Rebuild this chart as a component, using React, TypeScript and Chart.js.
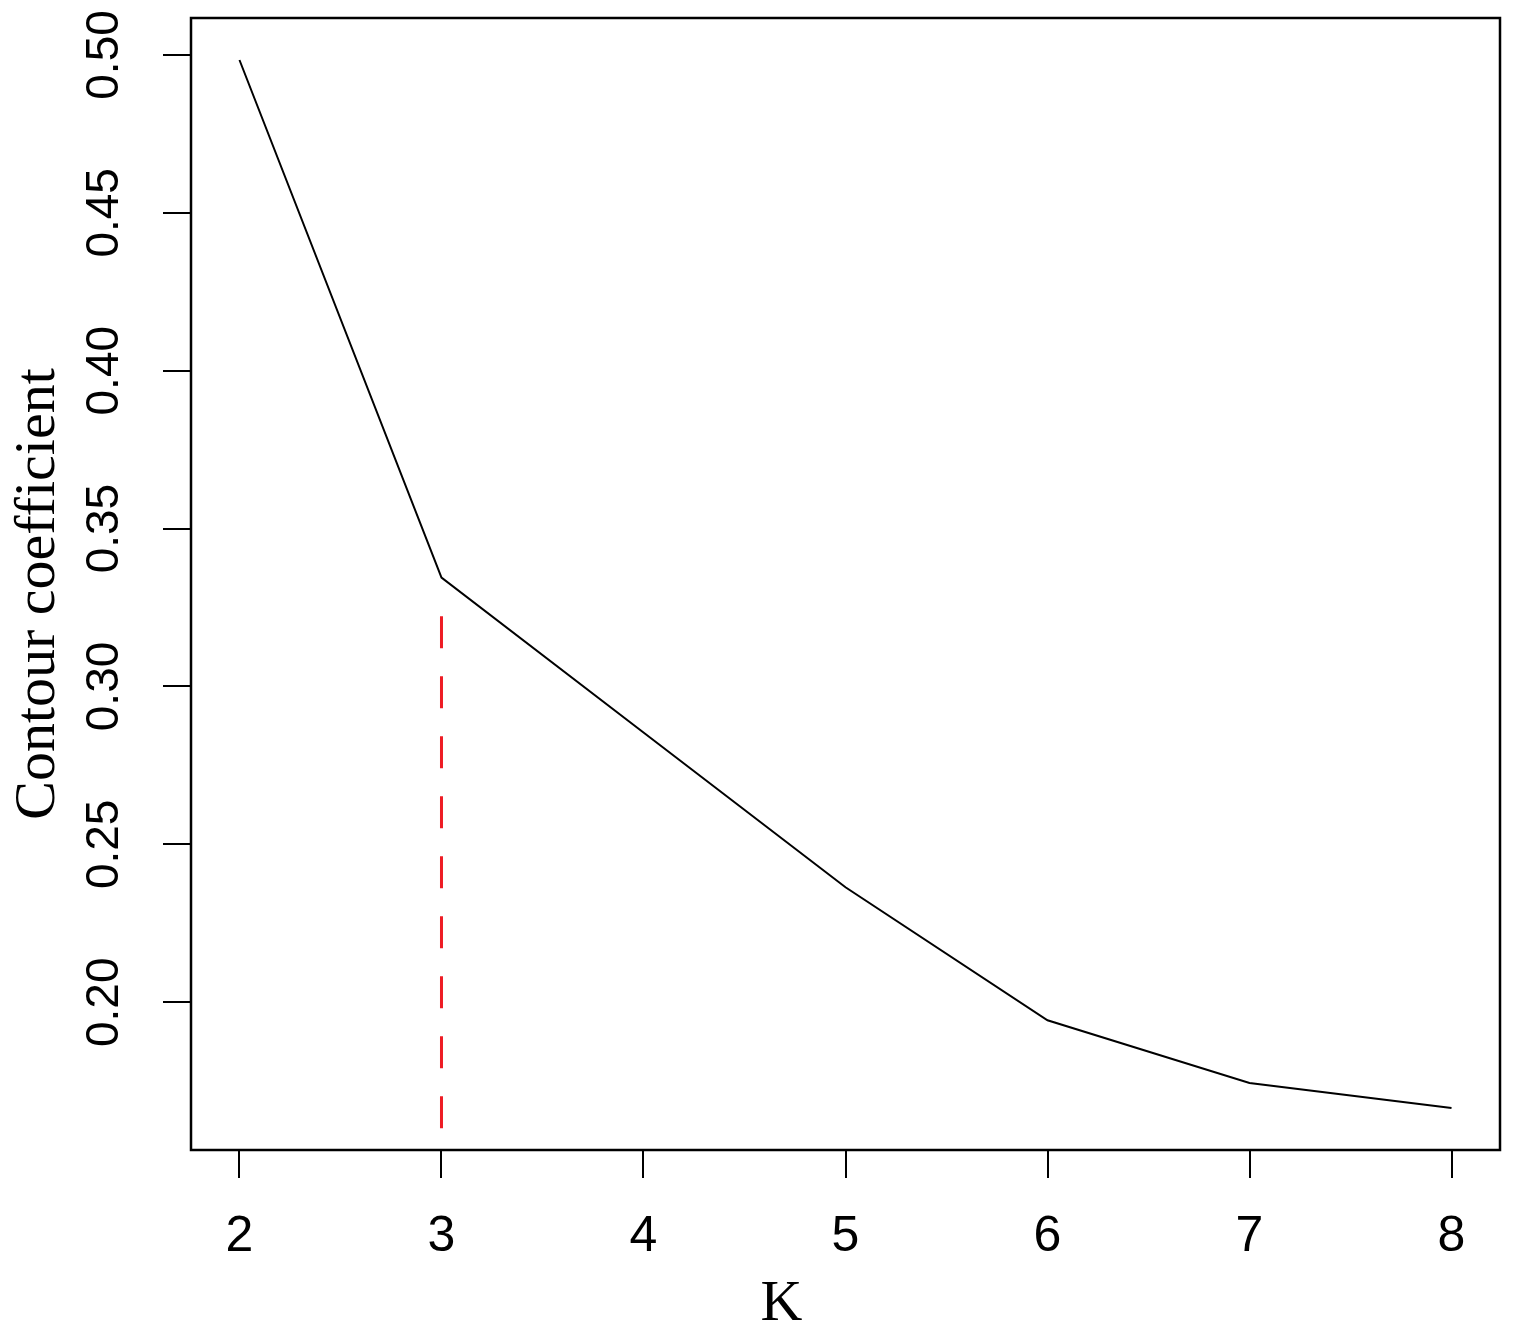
import React, { useEffect, useRef } from "react";
import { Chart, registerables } from "chart.js";

Chart.register(...registerables);

// ---- data ----
const kValues: number[] = [2, 3, 4, 5, 6, 7, 8];
const contourCoef: number[] = [0.4984, 0.3345, 0.2854, 0.2364, 0.1943, 0.1744, 0.1665];

const markerK: number[] = [3, 3];
const markerY: number[] = [0.3222, 0.1592];

const xTickValues: number[] = [2, 3, 4, 5, 6, 7, 8];
const xTickLabels: string[] = ["2", "3", "4", "5", "6", "7", "8"];
const yTickValues: number[] = [0.2, 0.25, 0.3, 0.35, 0.4, 0.45, 0.5];
const yTickLabels: string[] = ["0.20", "0.25", "0.30", "0.35", "0.40", "0.45", "0.50"];

const xLimits: number[] = [1.76, 8.24];
const yLimits: number[] = [0.1532, 0.5117];

const xTitle = "K";
const yTitle = "Contour coefficient";

const W = 1525;
const H = 1343;

const SANS = "'Liberation Sans', Arial, sans-serif";
const SERIF = "'Liberation Serif', 'Times New Roman', serif";

const boxPlugin = {
  id: "boxPlugin",
  afterDraw(chart: any) {
    const { ctx, chartArea } = chart;
    ctx.save();
    ctx.strokeStyle = "#000";
    ctx.lineWidth = 2.5;
    ctx.strokeRect(chartArea.left, chartArea.top, chartArea.right - chartArea.left, chartArea.bottom - chartArea.top);

    // axis titles (R-style placement)
    ctx.fillStyle = "#000";
    ctx.font = "58px " + SERIF;
    ctx.textAlign = "center";
    ctx.textBaseline = "alphabetic";
    const cx = (chartArea.left + chartArea.right) / 2 - 64;
    ctx.fillText(xTitle, cx, chartArea.bottom + 170);

    const cy = (chartArea.top + chartArea.bottom) / 2 + 10;
    ctx.translate(chartArea.left - 137, cy);
    ctx.rotate(-Math.PI / 2);
    ctx.fillText(yTitle, 0, 0);
    ctx.restore();
  },
};

export default function App() {
  const ref = useRef<HTMLCanvasElement | null>(null);

  useEffect(() => {
    document.body.style.margin = "0";
    if (!ref.current) return;
    const chart = new Chart(ref.current, {
      type: "line",
      data: {
        datasets: [
          {
            data: kValues.map((k, i) => ({ x: k, y: contourCoef[i] })),
            borderColor: "#000",
            borderWidth: 2,
            pointRadius: 0,
            tension: 0,
            fill: false,
          },
          {
            data: markerK.map((k, i) => ({ x: k, y: markerY[i] })),
            borderColor: "#ee1c24",
            borderWidth: 3,
            borderDash: [32, 28],
            pointRadius: 0,
            tension: 0,
            fill: false,
          },
        ],
      },
      options: {
        responsive: false,
        animation: false,
        devicePixelRatio: 1,
        layout: { padding: { top: 18, right: 25, left: 0, bottom: 0 } },
        plugins: { legend: { display: false }, tooltip: { enabled: false } },
        scales: {
          x: {
            type: "linear",
            min: xLimits[0],
            max: xLimits[1],
            afterBuildTicks: (scale: any) => {
              scale.ticks = xTickValues.map((v) => ({ value: v }));
            },
            afterFit: (scale: any) => {
              scale.height = 193;
              scale.paddingLeft = 0;
              scale.paddingRight = 0;
            },
            border: { display: false },
            grid: {
              drawOnChartArea: false,
              drawTicks: true,
              tickLength: 28,
              color: "#000",
              lineWidth: 2,
            },
            ticks: {
              color: "#000",
              font: { family: SANS, size: 50 },
              padding: 29,
              maxRotation: 0,
              minRotation: 0,
              autoSkip: false,
              callback: (v: any) => xTickLabels[xTickValues.indexOf(v)],
            },
            title: { display: false },
          },
          y: {
            type: "linear",
            min: yLimits[0],
            max: yLimits[1],
            afterBuildTicks: (scale: any) => {
              scale.ticks = yTickValues.map((v) => ({ value: v }));
            },
            afterFit: (scale: any) => {
              scale.width = 191;
              scale.paddingTop = 0;
              scale.paddingBottom = 0;
            },
            border: { display: false },
            grid: {
              drawOnChartArea: false,
              drawTicks: true,
              tickLength: 28,
              color: "#000",
              lineWidth: 2,
            },
            ticks: {
              color: "#000",
              font: { family: SANS, size: 46 },
              padding: 13,
              minRotation: 90,
              maxRotation: 90,
              crossAlign: "center",
              autoSkip: false,
              callback: (v: any) => yTickLabels[yTickValues.indexOf(v)],
            },
            title: { display: false },
          },
        },
      },
      plugins: [boxPlugin],
    } as any);
    return () => chart.destroy();
  }, []);

  return (
    <div style={{ width: W, height: H, background: "#fff" }}>
      <canvas ref={ref} width={W} height={H} style={{ display: "block" }} />
    </div>
  );
}
